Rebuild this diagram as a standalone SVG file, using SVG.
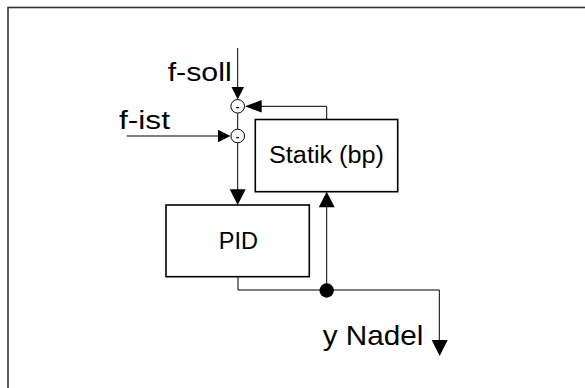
<svg xmlns="http://www.w3.org/2000/svg" width="585" height="388" viewBox="0 0 585 388">
<defs>
<style>
.box{fill:#fff;stroke:#000;stroke-width:1.6}
.ln{fill:none;stroke:#000;stroke-width:1}
.ah{fill:#000}
.sum{fill:#fff;stroke:#000;stroke-width:1}
text{font-family:"Liberation Sans",Arial,sans-serif;fill:#000}
</style>
</defs>
<rect x="8" y="7.5" width="600" height="400" fill="#fff" stroke="#333" stroke-width="1.6"/>
<g id="connectors">
<path class="ln" d="M237.7,48 V88"/>
<polygon class="ah" points="231.5,87 244,87 237.7,99.5"/>
<path class="ln" d="M326.7,119.5 V106.3 H260"/>
<polygon class="ah" points="261.7,100 261.7,112.6 245,106.3"/>
<path class="ln" d="M126.7,136 H220"/>
<polygon class="ah" points="218,129.7 218,142.3 230.5,136"/>
<path class="ln" d="M237.7,113.3 V129"/>
<path class="ln" d="M237.7,143 V190"/>
<polygon class="ah" points="229.7,189.3 245.7,189.3 237.7,205"/>
<path class="ln" d="M238,276.7 V290 H439.3 V341"/>
<polygon class="ah" points="431.7,340 447.7,340 439.7,356"/>
<path class="ln" d="M326.7,290 V206"/>
<polygon class="ah" points="318.7,207.3 334.7,207.3 326.7,191.7"/>
<circle cx="326.7" cy="290.5" r="7.2" fill="#000"/>
</g>
<g id="sum1">
<circle class="sum" cx="237.7" cy="106.3" r="6.8"/>
<text x="237.7" y="110" font-size="11" font-weight="bold" text-anchor="middle">-</text>
</g>
<g id="sum2">
<circle class="sum" cx="237.7" cy="136" r="6.8"/>
<text x="237.7" y="139.7" font-size="11" font-weight="bold" text-anchor="middle">-</text>
</g>
<g id="statik">
<rect class="box" x="255.3" y="119.5" width="142.4" height="72.2"/>
<text x="326.5" y="162.7" font-size="23.5" text-anchor="middle" textLength="115" lengthAdjust="spacingAndGlyphs">Statik (bp)</text>
</g>
<g id="pid">
<rect class="box" x="166" y="205" width="143.3" height="71.7"/>
<text x="238.3" y="249" font-size="23.5" text-anchor="middle">PID</text>
</g>
<g id="labels">
<text x="167.7" y="80.7" font-size="26.5" textLength="64" lengthAdjust="spacingAndGlyphs">f-soll</text>
<text x="119" y="129.3" font-size="26.5" textLength="51" lengthAdjust="spacingAndGlyphs">f-ist</text>
<text x="322.7" y="345" font-size="27.5" textLength="100.6" lengthAdjust="spacingAndGlyphs">y Nadel</text>
</g>
</svg>
